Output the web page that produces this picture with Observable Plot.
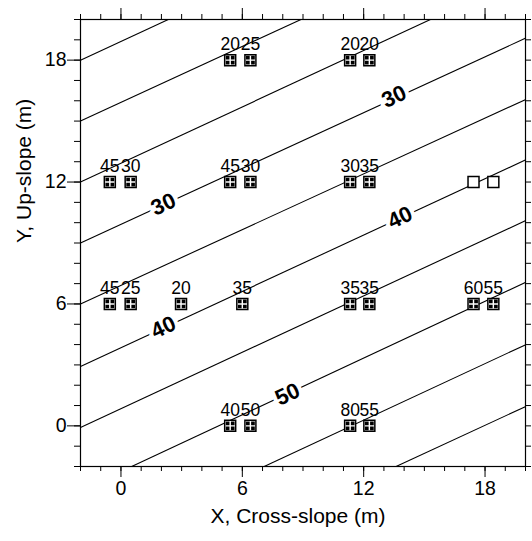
<!DOCTYPE html>
<html><head><meta charset="utf-8">
<script src="https://cdn.jsdelivr.net/npm/d3@7"></script>
<script src="https://cdn.jsdelivr.net/npm/@observablehq/plot@0.6"></script>
<style>body{margin:0;background:#fff}</style>
</head><body><div id="chart"></div>
<script>
// Contour lines (level, entry point, exit point of the frame)
const contourLevel = [15, 20, 25, 30, 35, 40, 45, 50, 55, 60];
const contourX1 = [-2, -2, -2, -2, -2, -2, -2, 0.53, 7.08, 13.6];
const contourY1 = [18, 15, 12, 9, 6, 2.92, -0.08, -2, -2, -2];
const contourX2 = [2.34, 8.9, 15.3, 20, 20, 20, 20, 20, 20, 20];
const contourY2 = [20, 20, 20, 19.08, 16.06, 13.09, 10.1, 7.06, 3.99, 0.95];

// Contour labels
const contourLabel = ["30", "30", "40", "40", "50"];
const contourLabelX = [2.1, 13.5, 2.1, 13.8, 8.24];
const contourLabelY = [10.9, 16.2, 4.85, 10.25, 1.55];

// Sample points
const pointX = [5.4, 6.4, 11.33, 12.28,
                -0.55, 0.48, 5.4, 6.4, 11.33, 12.28, 17.43, 18.41,
                -0.55, 0.48, 2.97, 6.0, 11.33, 12.28, 17.43, 18.41,
                5.4, 6.4, 11.33, 12.28];
const pointY = [18, 18, 18, 18,
                12, 12, 12, 12, 12, 12, 12, 12,
                6, 6, 6, 6, 6, 6, 6, 6,
                0, 0, 0, 0];
const pointLabel = ["20", "25", "20", "20",
                    "45", "30", "45", "30", "30", "35", "", "",
                    "45", "25", "20", "35", "35", "35", "60", "55",
                    "40", "50", "80", "55"];
const pointFilled = [true, true, true, true,
                     true, true, true, true, true, true, false, false,
                     true, true, true, true, true, true, true, true,
                     true, true, true, true];

// Axis ticks
const majorTicks = [0, 6, 12, 18];
const minorTicks = d3.range(-2, 21, 1);
const xTitle = "X, Cross-slope (m)";
const yTitle = "Y, Up-slope (m)";

const contours = contourLevel.map((v, i) => ({level: v, x1: contourX1[i], y1: contourY1[i], x2: contourX2[i], y2: contourY2[i]}));
const labels = contourLabel.map((t, i) => ({text: t, x: contourLabelX[i], y: contourLabelY[i]}));
const points = pointX.map((x, i) => ({x, y: pointY[i], label: pointLabel[i], filled: pointFilled[i]}));

const quadSymbol = {
  draw(ctx, size) {
    const h = Math.sqrt(size) / 2;
    const a = h * 0.13, b = h * 0.8, w = b - a;
    ctx.rect(-b, -b, w, w); ctx.rect(a, -b, w, w);
    ctx.rect(-b, a, w, w); ctx.rect(a, a, w, w);
  }
};

const font = "Liberation Sans, Arial, Helvetica, sans-serif";
const blank = () => "";

const chart = Plot.plot({
  width: 532,
  height: 541,
  marginLeft: 80,
  marginRight: 7,
  marginTop: 19,
  marginBottom: 75,
  style: {fontFamily: font, fontSize: "19px", background: "white", color: "black"},
  x: {domain: [-2, 20]},
  y: {domain: [-2, 20]},
  marks: [
    Plot.link(contours, {x1: "x1", y1: "y1", x2: "x2", y2: "y2", stroke: "black", strokeWidth: 1.1, clip: true}),
    Plot.text(labels, {x: "x", y: "y", text: "text", rotate: -25, fontSize: 22, fontWeight: "bold",
      stroke: "white", strokeWidth: 8, fill: "black"}),
    Plot.dot(points, {x: "x", y: "y", symbol: "square", r: 6.2, fill: "white", stroke: "black", strokeWidth: 1.5}),
    Plot.dot(points.filter(d => d.filled), {x: "x", y: "y", symbol: quadSymbol, r: 6.2, fill: "black", stroke: "none"}),
    Plot.text(points, {x: "x", y: "y", text: "label", dy: -10, lineAnchor: "bottom", fontSize: 17.5, fill: "black"}),
    Plot.frame({stroke: "black", strokeWidth: 1.2}),
    Plot.axisX({anchor: "bottom", ticks: minorTicks, tickSize: 5, tickFormat: blank, label: null}),
    Plot.axisX({anchor: "bottom", ticks: majorTicks, tickSize: 11, tickPadding: 4, label: null, fontSize: 19.5}),
    Plot.axisX({anchor: "top", ticks: minorTicks, tickSize: 6, tickFormat: blank, label: null}),
    Plot.axisX({anchor: "top", ticks: majorTicks, tickSize: 12, tickFormat: blank, label: null}),
    Plot.axisY({anchor: "left", ticks: minorTicks, tickSize: 6, tickFormat: blank, label: null}),
    Plot.axisY({anchor: "left", ticks: majorTicks, tickSize: 13, tickPadding: 1, label: null, fontSize: 19.5}),
    Plot.axisY({anchor: "right", ticks: minorTicks, tickSize: 5, tickFormat: blank, label: null}),
    Plot.text([xTitle], {frameAnchor: "bottom", dy: 56, dx: -5, fontSize: 21, fill: "black"}),
    Plot.text([yTitle], {frameAnchor: "left", dx: -56, rotate: -90, fontSize: 21, fill: "black"})
  ]
});
document.getElementById("chart").appendChild(chart);
</script>
</body></html>
